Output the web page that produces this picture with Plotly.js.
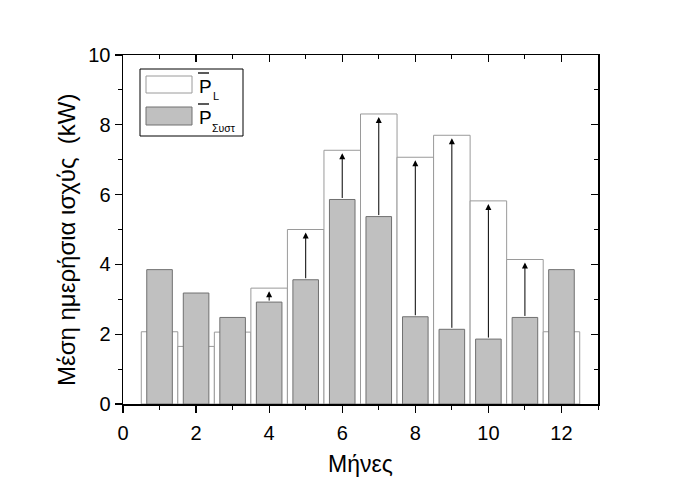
<!DOCTYPE html>
<html><head><meta charset="utf-8">
<script src="https://cdn.plot.ly/plotly-3.0.1.min.js"></script>
<style>body{margin:0;background:#fff}#c{width:694px;height:485px}</style>
</head><body><div id="c"></div>
<script>
const months = [1,2,3,4,5,6,7,8,9,10,11,12];
const pLoad = [2.07,1.65,2.06,3.32,5.00,7.27,8.31,7.07,7.70,5.82,4.14,2.07];
const pSys  = [3.85,3.18,2.48,2.92,3.56,5.86,5.37,2.50,2.14,1.86,2.48,3.85];
const xTickVals = [0,2,4,6,8,10,12];
const yTickVals = [0,2,4,6,8,10];
const xTitle = 'Μήνες';
const yTitle = 'Μέση ημερήσια ισχύς  (kW)';

const F = '"Liberation Sans", Arial, sans-serif';
const traces = [
  {type:'bar', x:months, y:pLoad, width:1.0, marker:{color:'#ffffff', line:{color:'#9a9a9a', width:1}}, showlegend:false, hoverinfo:'skip'},
  {type:'bar', x:months, y:pSys, width:0.7, marker:{color:'#c0c0c0', line:{color:'#707070', width:1}}, showlegend:false, hoverinfo:'skip'}
];

const ann = [];
months.forEach((m,i)=>{
  if (pLoad[i] > pSys[i]) {
    ann.push({x:m, y:pLoad[i], ax:m, ay:pSys[i], xref:'x', yref:'y', axref:'x', ayref:'y',
      showarrow:true, arrowhead:2, arrowsize:1.2, arrowwidth:1, arrowcolor:'#000', standoff:3, text:''});
  }
});
function pxX(p){return (p-123)/475;}
function pxY(p){return (404-p)/349;}
// axis titles
ann.push({xref:'paper', yref:'paper', x:pxX(360), y:pxY(464), xanchor:'center', yanchor:'middle', text:xTitle, showarrow:false, font:{family:F, size:23, color:'#000'}});
ann.push({xref:'paper', yref:'paper', x:pxX(66), y:pxY(240), xanchor:'center', yanchor:'middle', textangle:-90, text:yTitle, showarrow:false, font:{family:F, size:24, color:'#000'}});
// legend texts
ann.push({xref:'paper', yref:'paper', x:pxX(197), y:pxY(86), xanchor:'left', yanchor:'middle', text:'P', showarrow:false, font:{family:F, size:19, color:'#000'}});
ann.push({xref:'paper', yref:'paper', x:pxX(211), y:pxY(96), xanchor:'left', yanchor:'middle', text:'L', showarrow:false, font:{family:F, size:11, color:'#000'}});
ann.push({xref:'paper', yref:'paper', x:pxX(197), y:pxY(117), xanchor:'left', yanchor:'middle', text:'P', showarrow:false, font:{family:F, size:19, color:'#000'}});
ann.push({xref:'paper', yref:'paper', x:pxX(210), y:pxY(128), xanchor:'left', yanchor:'middle', text:'Συστ', showarrow:false, font:{family:F, size:10.5, color:'#000'}});

const shapes = [
  {type:'rect', xref:'paper', yref:'paper', x0:pxX(140), x1:pxX(243), y0:pxY(136), y1:pxY(69), line:{color:'#000', width:1}, fillcolor:'rgba(0,0,0,0)'},
  {type:'rect', xref:'paper', yref:'paper', x0:pxX(146), x1:pxX(192), y0:pxY(93), y1:pxY(76), line:{color:'#9a9a9a', width:1}, fillcolor:'#ffffff'},
  {type:'rect', xref:'paper', yref:'paper', x0:pxX(146), x1:pxX(192), y0:pxY(125), y1:pxY(107), line:{color:'#707070', width:1}, fillcolor:'#c0c0c0'},
  {type:'line', xref:'paper', yref:'paper', x0:pxX(198), x1:pxX(209), y0:pxY(73), y1:pxY(73), line:{color:'#000', width:1.3}},
  {type:'line', xref:'paper', yref:'paper', x0:pxX(198), x1:pxX(209), y0:pxY(104), y1:pxY(104), line:{color:'#000', width:1.3}}
];

const common = {showgrid:false, zeroline:false, showline:true, linecolor:'#000', linewidth:1.5, tickcolor:'#000', tickwidth:1.2, ticklen:7};
const layout = {
  width:694, height:485,
  margin:{l:123, r:96, t:55, b:81},
  paper_bgcolor:'#fff', plot_bgcolor:'#fff',
  barmode:'overlay', bargap:0,
  font:{family:F, size:20, color:'#000'},
  xaxis:Object.assign({}, common, {range:[0,13], tickvals:xTickVals, ticks:'outside', ticklabelstandoff:3,
    minor:{dtick:1, tick0:0, ticks:'outside', ticklen:4, tickwidth:1, tickcolor:'#000'},
    layer:'below traces', tickfont:{family:F, size:20}}),
  yaxis:Object.assign({}, common, {range:[0,10], tickvals:yTickVals, ticks:'outside',
    minor:{dtick:1, tick0:0, ticks:'outside', ticklen:4, tickwidth:1, tickcolor:'#000'},
    tickfont:{family:F, size:20}}),
  xaxis2:Object.assign({}, common, {overlaying:'x', side:'top', anchor:'y', range:[0,13], tickvals:xTickVals, showticklabels:false, ticks:'inside',
    minor:{dtick:1, tick0:0, ticks:'inside', ticklen:4, tickwidth:1, tickcolor:'#000'}}),
  yaxis2:Object.assign({}, common, {overlaying:'y', side:'right', anchor:'x', range:[0,10], tickvals:yTickVals, showticklabels:false, ticks:'inside',
    minor:{dtick:1, tick0:0, ticks:'inside', ticklen:4, tickwidth:1, tickcolor:'#000'}}),
  annotations:ann, shapes:shapes, showlegend:false
};
traces.push({type:'scatter', x:[0], y:[0], xaxis:'x2', yaxis:'y2', mode:'markers', marker:{opacity:0}, showlegend:false, hoverinfo:'skip'});
Plotly.newPlot('c', traces, layout, {staticPlot:true});
</script></body></html>
